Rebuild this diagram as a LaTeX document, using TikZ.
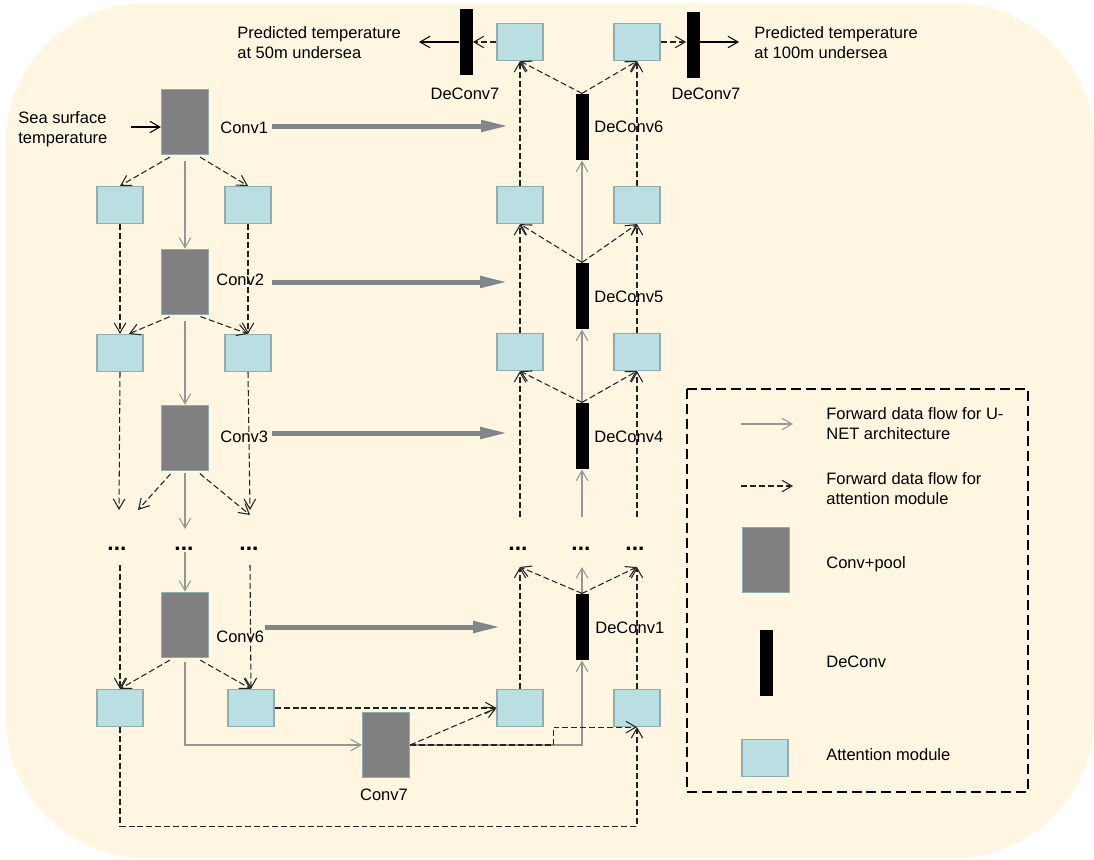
\documentclass[tikz,border=0pt]{standalone}
\usepackage{fontspec}
\setmainfont{Liberation Sans}
\usetikzlibrary{arrows.meta}
\definecolor{bgcream}{RGB}{255,246,226}
\definecolor{convgray}{RGB}{128,128,128}
\definecolor{attblue}{RGB}{185,223,227}
\definecolor{boxedge}{RGB}{143,172,176}
\definecolor{flowgray}{RGB}{150,150,150}
\definecolor{skipgray}{RGB}{128,134,137}
\definecolor{dashdark}{RGB}{35,35,35}
\begin{document}
\begin{tikzpicture}[x=0.02cm,y=-0.02cm,font=\fontsize{9.4}{11.4}\selectfont,
  conv/.style={draw=boxedge,fill=convgray,line width=0.7pt,minimum width=0.94cm,minimum height=1.31cm,inner sep=0pt},
  att/.style={draw=boxedge,fill=attblue,line width=0.7pt,minimum width=0.92cm,minimum height=0.74cm,inner sep=0pt},
  deconv/.style={fill=black,minimum width=0.26cm,minimum height=1.33cm,inner sep=0pt},
  txt/.style={inner sep=0pt,align=left},
  ellip/.style={inner sep=0pt,font=\fontsize{13}{13}\selectfont\bfseries},
  barb/.tip={Straight Barb[length=2mm,width=2.3mm]},
  unet/.style={draw=flowgray,line width=0.6pt,-barb},
  attn/.style={draw=dashdark,line width=0.6pt,dash pattern=on 3.4pt off 1.7pt,-barb},
  outflow/.style={draw=black,line width=0.6pt,-barb},
  skiparrow/.style={draw=skipgray,line width=1mm,-{Triangle[length=5.6mm,width=2.2mm]}},
  legendbox/.style={draw=black,line width=1.1pt,dash pattern=on 5.7pt off 2.8pt}]

% Background
\useasboundingbox (0,0) rectangle (1094,859);
\fill[bgcream,rounded corners=2.8cm] (6,3) rectangle (1094,858);

% Encoder: Conv+pool blocks
\node[conv] (c1) at (185,122) {};
\node[conv] (c2) at (185,282) {};
\node[conv] (c3) at (185,438) {};
\node[conv] (c6) at (185,625) {};
\node[conv] (c7) at (386,745) {};
\node[txt,anchor=west] (lc1) at (220,128) {Conv1};
\node[txt,anchor=west] (lc2) at (216,280) {Conv2};
\node[txt,anchor=west] (lc3) at (220,437) {Conv3};
\node[txt,anchor=west] (lc6) at (216,637) {Conv6};
\node[txt] (lc7) at (384,795) {Conv7};

% Encoder attention modules
\node[att] (el1) at (120,205) {};
\node[att] (er1) at (248,205) {};
\node[att] (el2) at (120,353) {};
\node[att] (er2) at (248,353) {};
\node[att] (el6) at (120,708) {};
\node[att] (er6) at (251,708) {};

% Decoder: DeConv blocks
\node[deconv] (d7l) at (466,42) {};
\node[deconv] (d7r) at (693,45) {};
\node[deconv] (d6) at (582,127) {};
\node[deconv] (d5) at (582,296) {};
\node[deconv] (d4) at (582,436) {};
\node[deconv] (d1) at (582,627) {};
\node[txt] (ld7l) at (465,94) {DeConv7};
\node[txt] (ld7r) at (706,94) {DeConv7};
\node[txt,anchor=west] (ld6) at (594,127) {DeConv6};
\node[txt,anchor=west] (ld5) at (594,297) {DeConv5};
\node[txt,anchor=west] (ld4) at (594,437) {DeConv4};
\node[txt,anchor=west] (ld1) at (595,628) {DeConv1};

% Decoder attention modules
\foreach \n/\y in {6/42,5/205,4/352,1/708} {
  \node[att] (dl\n) at (520,\y) {};
  \node[att] (dr\n) at (637,\y) {};
}

% Skipped layers
\foreach \x [count=\i] in {117,184,249} \node[ellip] (edot\i) at (\x,549) {...};
\foreach \x [count=\i] in {518,581,635} \node[ellip] (ddot\i) at (\x,549) {...};
\coordinate (eu1) at (119,510);
\coordinate (eu2) at (138,510);
\coordinate (eu3) at (185,529);
\coordinate (eu4) at (250,510);
\coordinate (eu5) at (250,515);
\coordinate (eb1) at (120,565);
\coordinate (eb2) at (185,552);
\coordinate (eb3) at (250,565);
\coordinate (du1) at (520,517);
\coordinate (du2) at (582,517);
\coordinate (du3) at (637,517);
\coordinate (db1) at (520,567);
\coordinate (db2) at (582,567);
\coordinate (db3) at (637,567);

% Skip connections
\foreach \n/\xa/\xb/\y in {1/272/509/126,2/272/508/282,3/272/508/433,6/265/501/627} {
  \coordinate (sk\n) at (\xa,\y);
  \coordinate (sh\n) at (\xb,\y);
  \draw[skiparrow] (sk\n) -- (sh\n);
}

% Input and outputs
\node[txt,anchor=west] (sst) at (18,129) {Sea surface\\temperature};
\coordinate (sstin) at (131,127);
\draw[outflow] (sstin) -- (sstin -| c1.west);
\node[txt,anchor=west] (out50) at (237,43) {Predicted temperature\\at 50m undersea};
\node[txt,anchor=west] (out100) at (754,43) {Predicted temperature\\at 100m undersea};
\coordinate (o50) at (419,42);
\coordinate (o100) at (739,42);
\draw[attn] (dl6.west) -- (d7l.east);
\draw[outflow] (d7l.west) -- (o50);
\draw[attn] (dr6.east) -- (dr6.east -| d7r.west);
\draw[outflow] (dr6.east -| d7r.east) -- (o100);

% U-NET flow
\draw[unet,shorten <=3pt] (c1) -- (c2);
\draw[unet,shorten <=3pt] (c2) -- (c3);
\draw[unet,shorten <=1pt] (c3.south) -- (eu3);
\draw[unet] (eb2) -- (c6.north);
\draw[unet,shorten <=2pt] (c6.south) |- (c7.west);
\draw[unet] (c7.east) -| (d1.south);
\draw[unet] (d1.north) -- (db2);
\draw[unet] (du2) -- (d4.south);
\draw[unet] (d4) -- (d5);
\draw[unet] (d5) -- (d6);

% Attention flow, encoder
\foreach \c in {c1,c2,c3,c6} {
  \coordinate (\c dl) at (\c.-110);
  \coordinate (\c dr) at (\c.-70);
}
\draw[attn,shorten <=2pt] (c1dl) -- (el1.north);
\draw[attn,shorten <=2pt] (c1dr) -- (er1.north);
\draw[attn] (el1) -- (el2);
\draw[attn] (er1) -- (er2);
\draw[attn,shorten <=2pt] (c2dl) -- (el2.65);
\draw[attn,shorten <=2pt] (c2dr) -- (er2.north);
\draw[attn] (el2.south) -- (eu1);
\draw[attn] (er2.south) -- (eu4);
\draw[attn,shorten <=2pt] (c3dl) -- (eu2);
\draw[attn,shorten <=2pt] (c3dr) -- (eu5);
\draw[attn] (eb1) -- (el6.north);
\draw[attn] (eb3) -- (er6.north);
\draw[attn,shorten <=2pt] (c6dl) -- (el6.north);
\draw[attn,shorten <=2pt] (c6dr) -- (er6.north);
\draw[attn] (er6.east) -- (dl1.west);
\draw[attn] (c7.east) -- (dl1.west);
\draw[attn] (c7.east) -- ++(143,0) |- (dr1.south);
\draw[attn] (el6.south) -- ++(0,99) -| (dr1.south);

% Attention flow, decoder
\draw[attn] (dl1.north) -- (db1);
\draw[attn] (dr1.north) -- (db3);
\draw[attn] (d1.north) -- (db1);
\draw[attn] (d1.north) -- (db3);
\draw[attn] (du1) -- (dl4.south);
\draw[attn] (du3) -- (dr4.south);
\foreach \n in {4,5,6} {
  \draw[attn] (d\n.north) -- (dl\n.south);
  \draw[attn] (d\n.north) -- (dr\n.south);
}
\foreach \a/\b in {4/5,5/6} {
  \draw[attn] (dl\a) -- (dl\b);
  \draw[attn] (dr\a) -- (dr\b);
}

% Legend
\draw[legendbox] (687,389) rectangle (1028,792);
\coordinate (lu1) at (741,424);
\coordinate (lu2) at (793,424);
\coordinate (la1) at (741,486);
\coordinate (la2) at (793,486);
\draw[unet] (lu1) -- (lu2);
\draw[attn] (la1) -- (la2);
\node[conv] (lconv) at (766,560) {};
\node[deconv] (ldeconv) at (766,663) {};
\node[att] (latt) at (765,758) {};
\node[txt,anchor=west] (ltu) at (826,424) {Forward data flow for U-\\NET architecture};
\node[txt,anchor=west] (lta) at (826,489) {Forward data flow for\\attention module};
\node[txt,anchor=west] (ltc) at (826,564) {Conv+pool};
\node[txt,anchor=west] (ltd) at (826,662) {DeConv};
\node[txt,anchor=west] (ltt) at (826,755) {Attention module};
\end{tikzpicture}
\end{document}
